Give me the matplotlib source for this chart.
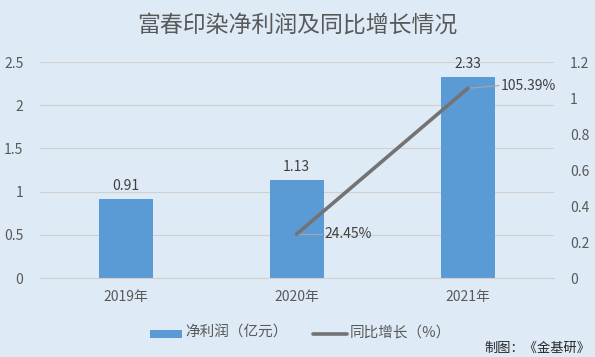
import matplotlib
matplotlib.use("Agg")
import matplotlib.pyplot as plt
from matplotlib.patches import Rectangle
from matplotlib.lines import Line2D

plt.rcParams['font.family'] = ['Noto Sans CJK SC', 'DejaVu Sans']

years = ["2019年", "2020年", "2021年"]
profit = [0.91, 1.13, 2.33]
growth_years_idx = [1, 2]
growth = [24.45, 105.39]
title = "富春印染净利润及同比增长情况"
legend_bar = "净利润（亿元）"
legend_line = "同比增长（%）"
footer = "制图：《金基研》"

bg = "#DEEAF6"
bar_color = "#5B9BD5"
line_color = "#737373"
text_color = "#595959"

W, H = 595, 357
def fx(px): return px / W
def fy(py): return 1 - py / H

fig = plt.figure(figsize=(5.95, 3.57), dpi=100, facecolor=bg)
ax = fig.add_axes([fx(40), fy(278), (553.5-40)/W, (278-62)/H])
ax.set_facecolor(bg)
x = list(range(len(years)))
ax.bar(x, profit, width=0.316, color=bar_color, zorder=2)
ax.set_xlim(-0.5, len(years)-0.5)
ax.set_ylim(0, 2.5)
ax.set_yticks([0, 0.5, 1, 1.5, 2, 2.5])
ax.set_yticklabels(["0", "0.5", "1", "1.5", "2", "2.5"])
ax.set_xticks(x)
ax.set_xticklabels(years)
ax.grid(axis='y', color="#D0D0D0", linewidth=0.8, zorder=0)
for s in ["top", "left", "right"]:
    ax.spines[s].set_visible(False)
ax.spines["bottom"].set_color("#D0D0D0")
ax.tick_params(axis='both', length=0, labelsize=10, colors=text_color)
ax.tick_params(axis='x', pad=9)
ax.tick_params(axis='y', pad=12)
for xi, v in zip(x, profit):
    ax.text(xi, v + 0.07, f"{v:.2f}", ha='center', va='bottom', fontsize=10, color="#404040")

ax2 = ax.twinx()
ax2.set_ylim(0, 1.2)
ax2.set_yticks([0, 0.2, 0.4, 0.6, 0.8, 1.0, 1.2])
ax2.set_yticklabels(["0", "0.2", "0.4", "0.6", "0.8", "1", "1.2"])
for s in ["top", "left", "right", "bottom"]:
    ax2.spines[s].set_visible(False)
ax2.tick_params(axis='y', length=0, labelsize=10, colors=text_color, pad=12)
gvals = [g/100 for g in growth]
ax2.plot(growth_years_idx, gvals, color=line_color, linewidth=2.6, solid_capstyle='round', zorder=3)
offsets = [(0.16, 0.0), (0.19, 0.015)]
for xi, g, (dx, dy) in zip(growth_years_idx, growth, offsets):
    ax2.plot([xi, xi + dx - 0.01], [g/100, g/100 + dy], color="#A6A6A6", linewidth=0.8, zorder=2)
    ax2.text(xi + dx, g/100 + dy, f"{g:.2f}%", ha='left', va='center', fontsize=10, color="#404040")

fig.text(0.5, fy(25), title, ha='center', va='center', fontsize=16.5, color=text_color)

# legend drawn manually
fig.add_artist(Rectangle((fx(150), fy(338)), (182-150)/W, 8/H, transform=fig.transFigure,
                         facecolor=bar_color, edgecolor='none'))
fig.text(fx(185), fy(333), legend_bar, ha='left', va='center', fontsize=10.5, color=text_color)
fig.add_artist(Line2D([fx(313), fx(347)], [fy(334), fy(334)], transform=fig.transFigure,
                      color=line_color, linewidth=2.6, solid_capstyle='round'))
fig.text(fx(350), fy(333), legend_line, ha='left', va='center', fontsize=10.5, color=text_color)
fig.text(fx(590), fy(348), footer, ha='right', va='center', fontsize=9.5, color="#262626")

fig.savefig("out.png", dpi=100, facecolor=bg)
